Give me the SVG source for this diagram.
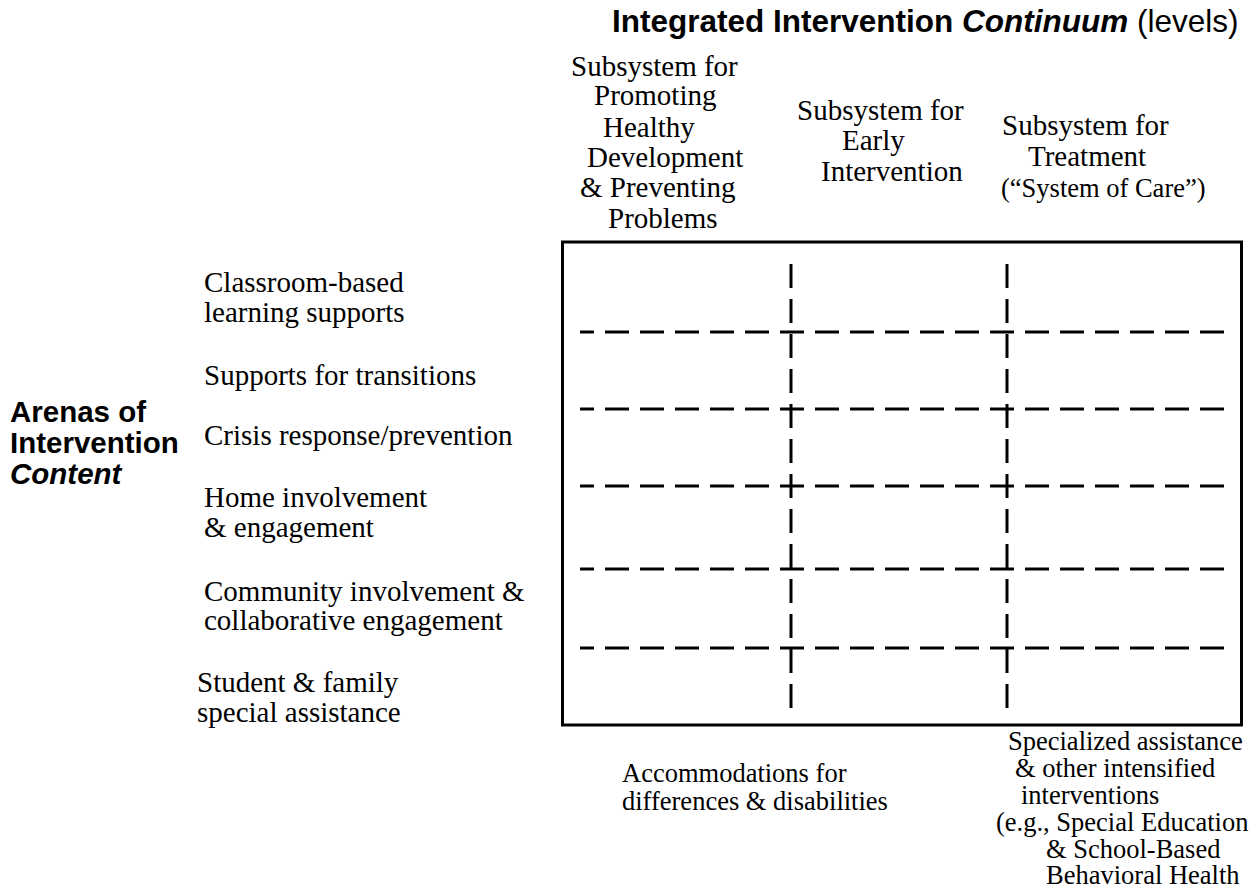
<svg xmlns="http://www.w3.org/2000/svg" width="1258" height="888" viewBox="0 0 1258 888">
<style>
.t{font-family:"Liberation Serif","Times New Roman",serif;font-size:29px;fill:#000}
.s{font-family:"Liberation Serif","Times New Roman",serif;font-size:26.5px;fill:#000}
.b{font-family:"Liberation Sans",Arial,sans-serif;font-size:29.5px;font-weight:bold;fill:#000}
.h{stroke:#000;stroke-width:3;stroke-dasharray:24 11;stroke-dashoffset:10;fill:none}
.v{stroke:#000;stroke-width:3;stroke-dasharray:24 11;fill:none}
</style>
<rect width="1258" height="888" fill="#fff"/>
<g id="title">
<text class="b" x="612" y="32" style="font-size:31.5px">Integrated Intervention <tspan font-style="italic">Continuum</tspan> <tspan font-weight="normal">(levels)</tspan></text>
</g>
<g id="col-prevention" class="t">
<text x="571" y="76">Subsystem for</text>
<text x="594" y="105">Promoting</text>
<text x="603" y="137">Healthy</text>
<text x="587" y="167">Development</text>
<text x="580" y="197">&amp; Preventing</text>
<text x="608" y="228">Problems</text>
</g>
<g id="col-early" class="t">
<text x="797" y="120">Subsystem for</text>
<text x="842" y="150">Early</text>
<text x="821" y="181">Intervention</text>
</g>
<g id="col-treatment" class="t">
<text x="1002" y="135">Subsystem for</text>
<text x="1028" y="166">Treatment</text>
<text x="1001" y="197" style="font-size:26.5px">(“System of Care”)</text>
</g>
<g id="arenas">
<text class="b" x="10" y="422">Arenas of</text>
<text class="b" x="10" y="453">Intervention</text>
<text class="b" x="10" y="484" font-style="italic">Content</text>
</g>
<g id="row-classroom" class="t">
<text x="204" y="292">Classroom-based</text>
<text x="204" y="322">learning supports</text>
</g>
<g id="row-transitions" class="t"><text x="204" y="385">Supports for transitions</text></g>
<g id="row-crisis" class="t"><text x="204" y="445">Crisis response/prevention</text></g>
<g id="row-home" class="t">
<text x="204" y="507">Home involvement</text>
<text x="204" y="537">&amp; engagement</text>
</g>
<g id="row-community" class="t">
<text x="204" y="601">Community involvement &amp;</text>
<text x="204" y="630">collaborative engagement</text>
</g>
<g id="row-student" class="t">
<text x="197" y="692">Student &amp; family</text>
<text x="197" y="722">special assistance</text>
</g>
<g id="matrix">
<rect x="562.5" y="242" width="679" height="483" fill="none" stroke="#000" stroke-width="3"/>
</g>
<g id="connectors">
<line class="h" x1="580" y1="332" x2="1224" y2="332"/>
<line class="h" x1="580" y1="409" x2="1224" y2="409"/>
<line class="h" x1="580" y1="486" x2="1224" y2="486"/>
<line class="h" x1="580" y1="569" x2="1224" y2="569"/>
<line class="h" x1="580" y1="648" x2="1224" y2="648"/>
<line class="v" x1="791" y1="264" x2="791" y2="708"/>
<line class="v" x1="1007" y1="264" x2="1007" y2="708"/>
</g>
<g id="accommodations" class="s">
<text x="622" y="782">Accommodations for</text>
<text x="622" y="810">differences &amp; disabilities</text>
</g>
<g id="specialized" class="s">
<text x="1008" y="750">Specialized assistance</text>
<text x="1015" y="777">&amp; other intensified</text>
<text x="1021" y="804">interventions</text>
<text x="996" y="831">(e.g., Special Education</text>
<text x="1046" y="858">&amp; School-Based</text>
<text x="1046" y="884">Behavioral Health</text>
</g>
</svg>
